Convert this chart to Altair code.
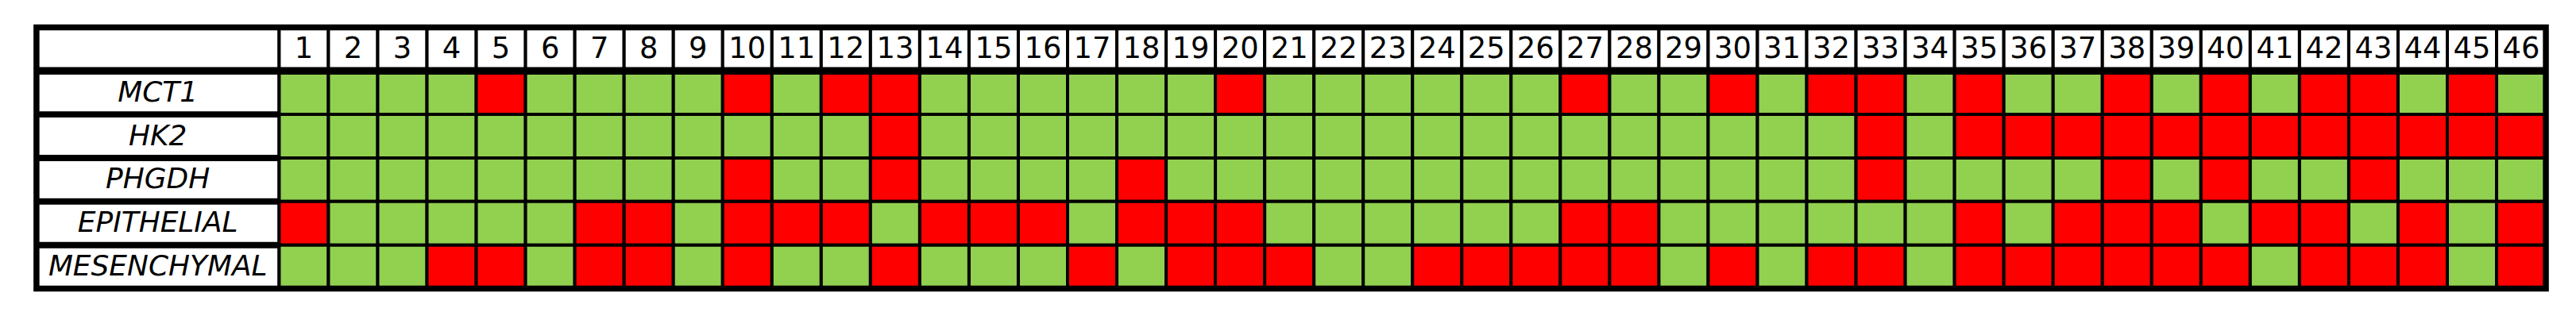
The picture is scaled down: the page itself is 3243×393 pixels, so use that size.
import altair as alt
import pandas as pd

# ---- data ----
columns = list(range(1, 47))
genes = ["MCT1", "HK2", "PHGDH", "EPITHELIAL", "MESENCHYMAL"]

# 1 = red, 0 = green
mct1 = [0,0,0,0,1,0,0,0,0,1, 0,1,1,0,0,0,0,0,0,1, 0,0,0,0,0,0,1,0,0,1,
        0,1,1,0,1,0,0,1,0,1, 0,1,1,0,1,0]
hk2 = [0,0,0,0,0,0,0,0,0,0, 0,0,1,0,0,0,0,0,0,0, 0,0,0,0,0,0,0,0,0,0,
       0,0,1,0,1,1,1,1,1,1, 1,1,1,1,1,1]
phgdh = [0,0,0,0,0,0,0,0,0,1, 0,0,1,0,0,0,0,1,0,0, 0,0,0,0,0,0,0,0,0,0,
         0,0,1,0,0,0,0,1,0,1, 0,0,1,0,0,0]
epithelial = [1,0,0,0,0,0,1,1,0,1, 1,1,0,1,1,1,0,1,1,1, 0,0,0,0,0,0,1,1,0,0,
              0,0,0,0,1,0,1,1,1,0, 1,1,0,1,0,1]
mesenchymal = [0,0,0,1,1,0,1,1,0,1, 0,0,1,0,0,0,1,0,1,1, 1,0,0,1,1,1,1,1,0,1,
               0,1,1,0,1,1,1,1,1,1, 0,1,1,1,0,1]
status_lists = [mct1, hk2, phgdh, epithelial, mesenchymal]

# ---- layout constants ----
LABEL_W = 4.925          # label column width in column units
NCOL = len(columns)
NROW = len(genes) + 1    # header + gene rows

# ---- tables ----
body = pd.DataFrame(
    [
        {"gene": g, "row": i + 1, "col": c, "status": "R" if s[j] else "G"}
        for i, (g, s) in enumerate(zip(genes, status_lists))
        for j, c in enumerate(columns)
    ]
)
header = pd.DataFrame({"col": columns, "row": 0, "label": [str(c) for c in columns]})
labels = pd.DataFrame({"gene": [""] + genes, "row": list(range(NROW))})
frame = pd.DataFrame({"x0": [-LABEL_W], "x1": [NCOL], "y0": [0], "y1": [NROW]})

xs = alt.Scale(domain=[-LABEL_W, NCOL], nice=False, zero=False)
ys = alt.Scale(domain=[0, NROW], nice=False, zero=False, reverse=True)

# label column white cells
label_cells = alt.Chart(labels).transform_calculate(
    xa=f"{-LABEL_W}", xb="0", ya="datum.row", yb="datum.row + 1"
).mark_rect(fill="white", stroke="black", strokeWidth=4).encode(
    x=alt.X("xa:Q", scale=xs, axis=None),
    x2="xb:Q",
    y=alt.Y("ya:Q", scale=ys, axis=None),
    y2="yb:Q",
)

# header cells
header_cells = alt.Chart(header).transform_calculate(
    xa="datum.col - 1", xb="datum.col", ya="datum.row", yb="datum.row + 1"
).mark_rect(fill="white", stroke="black", strokeWidth=4).encode(
    x=alt.X("xa:Q", scale=xs, axis=None),
    x2="xb:Q",
    y=alt.Y("ya:Q", scale=ys, axis=None),
    y2="yb:Q",
)

# body cells
body_cells = alt.Chart(body).transform_calculate(
    xa="datum.col - 1", xb="datum.col", ya="datum.row", yb="datum.row + 1"
).mark_rect(stroke="black", strokeWidth=4).encode(
    x=alt.X("xa:Q", scale=xs, axis=None),
    x2="xb:Q",
    y=alt.Y("ya:Q", scale=ys, axis=None),
    y2="yb:Q",
    fill=alt.Fill("status:N", scale=alt.Scale(domain=["G", "R"], range=["#92D050", "#FF0000"]), legend=None),
)

# thick separators between label cells
label_seps = alt.Chart(labels).transform_filter("datum.row >= 1").transform_calculate(
    xa=f"{-LABEL_W}", xb="0", ya="datum.row"
).mark_rule(color="black", strokeWidth=8).encode(
    x=alt.X("xa:Q", scale=xs, axis=None),
    x2="xb:Q",
    y=alt.Y("ya:Q", scale=ys, axis=None),
)

# thick separator under header
header_sep = alt.Chart(frame).transform_calculate(ya="datum.y0 + 1").mark_rule(
    color="black", strokeWidth=9.5
).encode(
    x=alt.X("x0:Q", scale=xs, axis=None),
    x2="x1:Q",
    y=alt.Y("ya:Q", scale=ys, axis=None),
)

# outer border
border = alt.Chart(frame).mark_rect(fill=None, fillOpacity=0, stroke="black", strokeWidth=7.5).encode(
    x=alt.X("x0:Q", scale=xs, axis=None),
    x2="x1:Q",
    y=alt.Y("y0:Q", scale=ys, axis=None),
    y2="y1:Q",
)

# header numbers
header_text = alt.Chart(header).transform_calculate(
    xm="datum.col - 0.5", ym="datum.row + 0.5"
).mark_text(font="DejaVu Sans", fontSize=37, color="black", baseline="middle", align="center").encode(
    x=alt.X("xm:Q", scale=xs, axis=None),
    y=alt.Y("ym:Q", scale=ys, axis=None),
    text="label:N",
)

# gene labels
label_text = alt.Chart(labels).transform_filter("datum.row >= 1").transform_calculate(
    xm=f"{-LABEL_W / 2}", ym="datum.row + 0.5"
).mark_text(
    font="DejaVu Sans", fontSize=36, fontStyle="italic", color="black", baseline="middle", align="center"
).encode(
    x=alt.X("xm:Q", scale=xs, axis=None),
    y=alt.Y("ym:Q", scale=ys, axis=None),
    text="gene:N",
)

chart = alt.layer(
    label_cells, header_cells, body_cells, label_seps, header_sep, border, header_text, label_text
).properties(
    width=3167,
    height=330,
    padding={"left": 38, "top": 26, "right": 30, "bottom": 20},
    autosize=alt.AutoSizeParams(type="none"),
    background="white",
).configure_view(stroke=None)

chart.save("out.html", embed_options={"renderer": "svg", "actions": False})
